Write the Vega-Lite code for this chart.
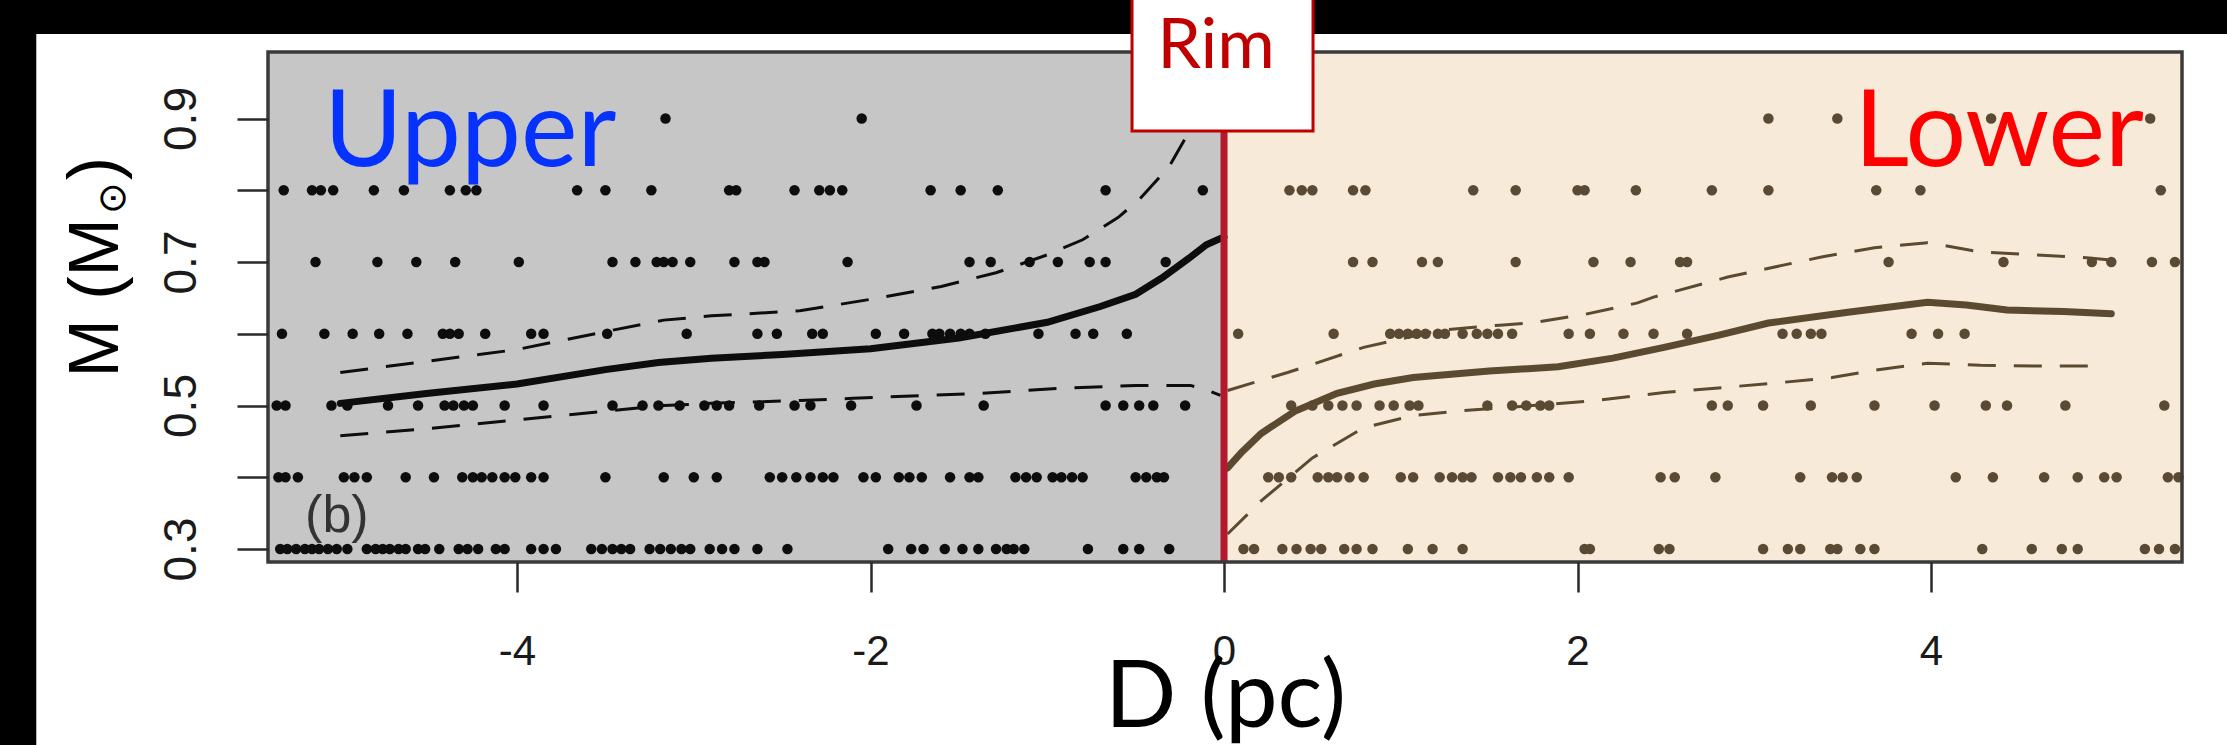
{
  "$schema": "https://vega.github.io/schema/vega-lite/v6.json",
  "width": 1914,
  "height": 510,
  "autosize": {"type": "none"},
  "padding": {"left": 268, "top": 52, "right": 45, "bottom": 183},
  "background": "black",
  "config": {"view": {"stroke": null}},
  "datasets": {
    "one": [{}],
    "upperPts": [
      {"D": -3.16, "M": 0.9}, {"D": -2.05, "M": 0.9},
      {"D": -5.32, "M": 0.8}, {"D": -5.16, "M": 0.8}, {"D": -5.11, "M": 0.8}, {"D": -5.04, "M": 0.8}, {"D": -4.81, "M": 0.8}, {"D": -4.64, "M": 0.8}, {"D": -4.38, "M": 0.8}, {"D": -4.29, "M": 0.8}, {"D": -4.23, "M": 0.8}, {"D": -3.66, "M": 0.8}, {"D": -3.50, "M": 0.8}, {"D": -3.24, "M": 0.8}, {"D": -2.80, "M": 0.8}, {"D": -2.76, "M": 0.8}, {"D": -2.43, "M": 0.8}, {"D": -2.29, "M": 0.8}, {"D": -2.23, "M": 0.8}, {"D": -2.16, "M": 0.8}, {"D": -1.66, "M": 0.8}, {"D": -1.49, "M": 0.8}, {"D": -1.28, "M": 0.8}, {"D": -0.67, "M": 0.8}, {"D": -0.12, "M": 0.8},
      {"D": -5.14, "M": 0.7}, {"D": -4.79, "M": 0.7}, {"D": -4.57, "M": 0.7}, {"D": -4.35, "M": 0.7}, {"D": -3.99, "M": 0.7}, {"D": -3.46, "M": 0.7}, {"D": -3.33, "M": 0.7}, {"D": -3.21, "M": 0.7}, {"D": -3.17, "M": 0.7}, {"D": -3.12, "M": 0.7}, {"D": -3.02, "M": 0.7}, {"D": -2.77, "M": 0.7}, {"D": -2.64, "M": 0.7}, {"D": -2.60, "M": 0.7}, {"D": -2.13, "M": 0.7}, {"D": -1.44, "M": 0.7}, {"D": -1.32, "M": 0.7}, {"D": -1.10, "M": 0.7}, {"D": -0.94, "M": 0.7}, {"D": -0.76, "M": 0.7}, {"D": -0.67, "M": 0.7}, {"D": -0.33, "M": 0.7},
      {"D": -5.33, "M": 0.6}, {"D": -5.09, "M": 0.6}, {"D": -4.93, "M": 0.6}, {"D": -4.78, "M": 0.6}, {"D": -4.62, "M": 0.6}, {"D": -4.42, "M": 0.6}, {"D": -4.38, "M": 0.6}, {"D": -4.33, "M": 0.6}, {"D": -4.18, "M": 0.6}, {"D": -3.92, "M": 0.6}, {"D": -3.85, "M": 0.6}, {"D": -3.49, "M": 0.6}, {"D": -3.04, "M": 0.6}, {"D": -2.64, "M": 0.6}, {"D": -2.53, "M": 0.6}, {"D": -2.33, "M": 0.6}, {"D": -2.27, "M": 0.6}, {"D": -1.97, "M": 0.6}, {"D": -1.81, "M": 0.6}, {"D": -1.65, "M": 0.6}, {"D": -1.61, "M": 0.6}, {"D": -1.55, "M": 0.6}, {"D": -1.49, "M": 0.6}, {"D": -1.44, "M": 0.6}, {"D": -1.35, "M": 0.6}, {"D": -1.05, "M": 0.6}, {"D": -0.84, "M": 0.6}, {"D": -0.74, "M": 0.6}, {"D": -0.55, "M": 0.6},
      {"D": -5.36, "M": 0.5}, {"D": -5.31, "M": 0.5}, {"D": -5.05, "M": 0.5}, {"D": -4.96, "M": 0.5}, {"D": -4.73, "M": 0.5}, {"D": -4.56, "M": 0.5}, {"D": -4.41, "M": 0.5}, {"D": -4.36, "M": 0.5}, {"D": -4.30, "M": 0.5}, {"D": -4.25, "M": 0.5}, {"D": -4.07, "M": 0.5}, {"D": -3.85, "M": 0.5}, {"D": -3.46, "M": 0.5}, {"D": -3.29, "M": 0.5}, {"D": -3.20, "M": 0.5}, {"D": -3.08, "M": 0.5}, {"D": -2.94, "M": 0.5}, {"D": -2.87, "M": 0.5}, {"D": -2.80, "M": 0.5}, {"D": -2.63, "M": 0.5}, {"D": -2.43, "M": 0.5}, {"D": -2.34, "M": 0.5}, {"D": -2.11, "M": 0.5}, {"D": -1.74, "M": 0.5}, {"D": -1.36, "M": 0.5}, {"D": -0.67, "M": 0.5}, {"D": -0.57, "M": 0.5}, {"D": -0.48, "M": 0.5}, {"D": -0.40, "M": 0.5}, {"D": -0.22, "M": 0.5},
      {"D": -5.35, "M": 0.4}, {"D": -5.31, "M": 0.4}, {"D": -5.24, "M": 0.4}, {"D": -4.98, "M": 0.4}, {"D": -4.92, "M": 0.4}, {"D": -4.85, "M": 0.4}, {"D": -4.63, "M": 0.4}, {"D": -4.47, "M": 0.4}, {"D": -4.31, "M": 0.4}, {"D": -4.25, "M": 0.4}, {"D": -4.20, "M": 0.4}, {"D": -4.14, "M": 0.4}, {"D": -4.07, "M": 0.4}, {"D": -4.01, "M": 0.4}, {"D": -3.92, "M": 0.4}, {"D": -3.85, "M": 0.4}, {"D": -3.50, "M": 0.4}, {"D": -3.17, "M": 0.4}, {"D": -3.00, "M": 0.4}, {"D": -2.87, "M": 0.4}, {"D": -2.57, "M": 0.4}, {"D": -2.50, "M": 0.4}, {"D": -2.42, "M": 0.4}, {"D": -2.34, "M": 0.4}, {"D": -2.27, "M": 0.4}, {"D": -2.21, "M": 0.4}, {"D": -2.04, "M": 0.4}, {"D": -1.97, "M": 0.4}, {"D": -1.84, "M": 0.4}, {"D": -1.78, "M": 0.4}, {"D": -1.71, "M": 0.4}, {"D": -1.55, "M": 0.4}, {"D": -1.44, "M": 0.4}, {"D": -1.39, "M": 0.4}, {"D": -1.18, "M": 0.4}, {"D": -1.12, "M": 0.4}, {"D": -1.06, "M": 0.4}, {"D": -0.97, "M": 0.4}, {"D": -0.92, "M": 0.4}, {"D": -0.86, "M": 0.4}, {"D": -0.80, "M": 0.4}, {"D": -0.50, "M": 0.4}, {"D": -0.44, "M": 0.4}, {"D": -0.38, "M": 0.4}, {"D": -0.34, "M": 0.4},
      {"D": -5.34, "M": 0.3}, {"D": -5.30, "M": 0.3}, {"D": -5.25, "M": 0.3}, {"D": -5.20, "M": 0.3}, {"D": -5.16, "M": 0.3}, {"D": -5.12, "M": 0.3}, {"D": -5.07, "M": 0.3}, {"D": -5.02, "M": 0.3}, {"D": -4.96, "M": 0.3}, {"D": -4.85, "M": 0.3}, {"D": -4.80, "M": 0.3}, {"D": -4.76, "M": 0.3}, {"D": -4.72, "M": 0.3}, {"D": -4.67, "M": 0.3}, {"D": -4.63, "M": 0.3}, {"D": -4.56, "M": 0.3}, {"D": -4.52, "M": 0.3}, {"D": -4.44, "M": 0.3}, {"D": -4.33, "M": 0.3}, {"D": -4.28, "M": 0.3}, {"D": -4.22, "M": 0.3}, {"D": -4.12, "M": 0.3}, {"D": -4.07, "M": 0.3}, {"D": -3.92, "M": 0.3}, {"D": -3.85, "M": 0.3}, {"D": -3.78, "M": 0.3}, {"D": -3.58, "M": 0.3}, {"D": -3.52, "M": 0.3}, {"D": -3.46, "M": 0.3}, {"D": -3.41, "M": 0.3}, {"D": -3.36, "M": 0.3}, {"D": -3.25, "M": 0.3}, {"D": -3.19, "M": 0.3}, {"D": -3.13, "M": 0.3}, {"D": -3.07, "M": 0.3}, {"D": -3.02, "M": 0.3}, {"D": -2.91, "M": 0.3}, {"D": -2.84, "M": 0.3}, {"D": -2.77, "M": 0.3}, {"D": -2.64, "M": 0.3}, {"D": -2.47, "M": 0.3}, {"D": -1.90, "M": 0.3}, {"D": -1.77, "M": 0.3}, {"D": -1.70, "M": 0.3}, {"D": -1.58, "M": 0.3}, {"D": -1.48, "M": 0.3}, {"D": -1.39, "M": 0.3}, {"D": -1.29, "M": 0.3}, {"D": -1.23, "M": 0.3}, {"D": -1.19, "M": 0.3}, {"D": -1.13, "M": 0.3}, {"D": -0.77, "M": 0.3}, {"D": -0.57, "M": 0.3}, {"D": -0.48, "M": 0.3}, {"D": -0.31, "M": 0.3}
    ],
    "lowerPts": [
      {"D": 3.08, "M": 0.9}, {"D": 3.47, "M": 0.9}, {"D": 4.11, "M": 0.9}, {"D": 4.34, "M": 0.9}, {"D": 5.24, "M": 0.9},
      {"D": 0.37, "M": 0.8}, {"D": 0.44, "M": 0.8}, {"D": 0.50, "M": 0.8}, {"D": 0.73, "M": 0.8}, {"D": 0.80, "M": 0.8}, {"D": 1.41, "M": 0.8}, {"D": 1.65, "M": 0.8}, {"D": 2.00, "M": 0.8}, {"D": 2.04, "M": 0.8}, {"D": 2.33, "M": 0.8}, {"D": 2.76, "M": 0.8}, {"D": 3.08, "M": 0.8}, {"D": 3.69, "M": 0.8}, {"D": 3.94, "M": 0.8}, {"D": 5.30, "M": 0.8},
      {"D": 0.73, "M": 0.7}, {"D": 0.84, "M": 0.7}, {"D": 1.12, "M": 0.7}, {"D": 1.21, "M": 0.7}, {"D": 1.65, "M": 0.7}, {"D": 2.09, "M": 0.7}, {"D": 2.30, "M": 0.7}, {"D": 2.58, "M": 0.7}, {"D": 2.62, "M": 0.7}, {"D": 3.76, "M": 0.7}, {"D": 4.41, "M": 0.7}, {"D": 4.91, "M": 0.7}, {"D": 5.02, "M": 0.7}, {"D": 5.25, "M": 0.7}, {"D": 5.38, "M": 0.7},
      {"D": 0.08, "M": 0.6}, {"D": 0.62, "M": 0.6}, {"D": 0.94, "M": 0.6}, {"D": 0.99, "M": 0.6}, {"D": 1.04, "M": 0.6}, {"D": 1.09, "M": 0.6}, {"D": 1.14, "M": 0.6}, {"D": 1.21, "M": 0.6}, {"D": 1.25, "M": 0.6}, {"D": 1.35, "M": 0.6}, {"D": 1.43, "M": 0.6}, {"D": 1.49, "M": 0.6}, {"D": 1.55, "M": 0.6}, {"D": 1.63, "M": 0.6}, {"D": 1.95, "M": 0.6}, {"D": 2.07, "M": 0.6}, {"D": 2.26, "M": 0.6}, {"D": 2.43, "M": 0.6}, {"D": 2.62, "M": 0.6}, {"D": 3.16, "M": 0.6}, {"D": 3.24, "M": 0.6}, {"D": 3.32, "M": 0.6}, {"D": 3.38, "M": 0.6}, {"D": 3.89, "M": 0.6}, {"D": 4.04, "M": 0.6}, {"D": 4.19, "M": 0.6},
      {"D": 0.38, "M": 0.5}, {"D": 0.50, "M": 0.5}, {"D": 0.59, "M": 0.5}, {"D": 0.67, "M": 0.5}, {"D": 0.75, "M": 0.5}, {"D": 0.88, "M": 0.5}, {"D": 0.96, "M": 0.5}, {"D": 1.05, "M": 0.5}, {"D": 1.10, "M": 0.5}, {"D": 1.49, "M": 0.5}, {"D": 1.63, "M": 0.5}, {"D": 1.71, "M": 0.5}, {"D": 1.79, "M": 0.5}, {"D": 1.84, "M": 0.5}, {"D": 2.76, "M": 0.5}, {"D": 2.85, "M": 0.5}, {"D": 3.05, "M": 0.5}, {"D": 3.32, "M": 0.5}, {"D": 3.68, "M": 0.5}, {"D": 4.02, "M": 0.5}, {"D": 4.31, "M": 0.5}, {"D": 4.43, "M": 0.5}, {"D": 4.76, "M": 0.5}, {"D": 5.32, "M": 0.5},
      {"D": 0.25, "M": 0.4}, {"D": 0.31, "M": 0.4}, {"D": 0.38, "M": 0.4}, {"D": 0.53, "M": 0.4}, {"D": 0.59, "M": 0.4}, {"D": 0.64, "M": 0.4}, {"D": 0.71, "M": 0.4}, {"D": 0.79, "M": 0.4}, {"D": 1.00, "M": 0.4}, {"D": 1.07, "M": 0.4}, {"D": 1.22, "M": 0.4}, {"D": 1.29, "M": 0.4}, {"D": 1.35, "M": 0.4}, {"D": 1.40, "M": 0.4}, {"D": 1.55, "M": 0.4}, {"D": 1.62, "M": 0.4}, {"D": 1.68, "M": 0.4}, {"D": 1.77, "M": 0.4}, {"D": 1.84, "M": 0.4}, {"D": 1.95, "M": 0.4}, {"D": 2.47, "M": 0.4}, {"D": 2.55, "M": 0.4}, {"D": 2.78, "M": 0.4}, {"D": 3.26, "M": 0.4}, {"D": 3.44, "M": 0.4}, {"D": 3.50, "M": 0.4}, {"D": 3.58, "M": 0.4}, {"D": 4.14, "M": 0.4}, {"D": 4.35, "M": 0.4}, {"D": 4.64, "M": 0.4}, {"D": 4.83, "M": 0.4}, {"D": 4.98, "M": 0.4}, {"D": 5.05, "M": 0.4}, {"D": 5.34, "M": 0.4}, {"D": 5.40, "M": 0.4},
      {"D": 0.11, "M": 0.3}, {"D": 0.17, "M": 0.3}, {"D": 0.33, "M": 0.3}, {"D": 0.41, "M": 0.3}, {"D": 0.49, "M": 0.3}, {"D": 0.55, "M": 0.3}, {"D": 0.68, "M": 0.3}, {"D": 0.75, "M": 0.3}, {"D": 0.84, "M": 0.3}, {"D": 1.04, "M": 0.3}, {"D": 1.18, "M": 0.3}, {"D": 1.35, "M": 0.3}, {"D": 2.04, "M": 0.3}, {"D": 2.07, "M": 0.3}, {"D": 2.46, "M": 0.3}, {"D": 2.52, "M": 0.3}, {"D": 3.05, "M": 0.3}, {"D": 3.19, "M": 0.3}, {"D": 3.26, "M": 0.3}, {"D": 3.43, "M": 0.3}, {"D": 3.47, "M": 0.3}, {"D": 3.60, "M": 0.3}, {"D": 3.68, "M": 0.3}, {"D": 4.29, "M": 0.3}, {"D": 4.57, "M": 0.3}, {"D": 4.74, "M": 0.3}, {"D": 4.83, "M": 0.3}, {"D": 5.21, "M": 0.3}, {"D": 5.29, "M": 0.3}, {"D": 5.38, "M": 0.3}
    ],
    "curves": [
      {"side": "Upper", "band": "fit", "D": -5.0, "M": 0.503}, {"side": "Upper", "band": "fit", "D": -4.5, "M": 0.517}, {"side": "Upper", "band": "fit", "D": -4.0, "M": 0.530}, {"side": "Upper", "band": "fit", "D": -3.5, "M": 0.550}, {"side": "Upper", "band": "fit", "D": -3.2, "M": 0.560}, {"side": "Upper", "band": "fit", "D": -2.9, "M": 0.566}, {"side": "Upper", "band": "fit", "D": -2.5, "M": 0.571}, {"side": "Upper", "band": "fit", "D": -2.0, "M": 0.579}, {"side": "Upper", "band": "fit", "D": -1.5, "M": 0.594}, {"side": "Upper", "band": "fit", "D": -1.0, "M": 0.616}, {"side": "Upper", "band": "fit", "D": -0.7, "M": 0.638}, {"side": "Upper", "band": "fit", "D": -0.5, "M": 0.655}, {"side": "Upper", "band": "fit", "D": -0.35, "M": 0.678}, {"side": "Upper", "band": "fit", "D": -0.2, "M": 0.705}, {"side": "Upper", "band": "fit", "D": -0.1, "M": 0.724}, {"side": "Upper", "band": "fit", "D": 0.0, "M": 0.735},
      {"side": "Upper", "band": "hi", "D": -5.0, "M": 0.546}, {"side": "Upper", "band": "hi", "D": -4.5, "M": 0.562}, {"side": "Upper", "band": "hi", "D": -4.0, "M": 0.578}, {"side": "Upper", "band": "hi", "D": -3.5, "M": 0.603}, {"side": "Upper", "band": "hi", "D": -3.17, "M": 0.619}, {"side": "Upper", "band": "hi", "D": -2.9, "M": 0.625}, {"side": "Upper", "band": "hi", "D": -2.4, "M": 0.632}, {"side": "Upper", "band": "hi", "D": -2.0, "M": 0.648}, {"side": "Upper", "band": "hi", "D": -1.6, "M": 0.666}, {"side": "Upper", "band": "hi", "D": -1.29, "M": 0.685}, {"side": "Upper", "band": "hi", "D": -1.0, "M": 0.710}, {"side": "Upper", "band": "hi", "D": -0.8, "M": 0.731}, {"side": "Upper", "band": "hi", "D": -0.6, "M": 0.762}, {"side": "Upper", "band": "hi", "D": -0.48, "M": 0.787}, {"side": "Upper", "band": "hi", "D": -0.31, "M": 0.833}, {"side": "Upper", "band": "hi", "D": -0.19, "M": 0.885}, {"side": "Upper", "band": "hi", "D": -0.1, "M": 0.93}, {"side": "Upper", "band": "hi", "D": -0.03, "M": 0.97},
      {"side": "Upper", "band": "lo", "D": -5.0, "M": 0.458}, {"side": "Upper", "band": "lo", "D": -4.5, "M": 0.468}, {"side": "Upper", "band": "lo", "D": -4.04, "M": 0.479}, {"side": "Upper", "band": "lo", "D": -3.5, "M": 0.492}, {"side": "Upper", "band": "lo", "D": -3.17, "M": 0.500}, {"side": "Upper", "band": "lo", "D": -2.9, "M": 0.503}, {"side": "Upper", "band": "lo", "D": -2.4, "M": 0.507}, {"side": "Upper", "band": "lo", "D": -2.1, "M": 0.510}, {"side": "Upper", "band": "lo", "D": -1.37, "M": 0.517}, {"side": "Upper", "band": "lo", "D": -0.94, "M": 0.524}, {"side": "Upper", "band": "lo", "D": -0.5, "M": 0.528}, {"side": "Upper", "band": "lo", "D": -0.19, "M": 0.528}, {"side": "Upper", "band": "lo", "D": -0.08, "M": 0.520}, {"side": "Upper", "band": "lo", "D": -0.02, "M": 0.514},
      {"side": "Lower", "band": "fit", "D": 0.02, "M": 0.413}, {"side": "Lower", "band": "fit", "D": 0.1, "M": 0.435}, {"side": "Lower", "band": "fit", "D": 0.21, "M": 0.461}, {"side": "Lower", "band": "fit", "D": 0.4, "M": 0.492}, {"side": "Lower", "band": "fit", "D": 0.64, "M": 0.517}, {"side": "Lower", "band": "fit", "D": 0.85, "M": 0.530}, {"side": "Lower", "band": "fit", "D": 1.07, "M": 0.539}, {"side": "Lower", "band": "fit", "D": 1.5, "M": 0.548}, {"side": "Lower", "band": "fit", "D": 1.89, "M": 0.554}, {"side": "Lower", "band": "fit", "D": 2.2, "M": 0.566}, {"side": "Lower", "band": "fit", "D": 2.49, "M": 0.581}, {"side": "Lower", "band": "fit", "D": 2.8, "M": 0.598}, {"side": "Lower", "band": "fit", "D": 3.08, "M": 0.615}, {"side": "Lower", "band": "fit", "D": 3.53, "M": 0.630}, {"side": "Lower", "band": "fit", "D": 3.98, "M": 0.644}, {"side": "Lower", "band": "fit", "D": 4.2, "M": 0.640}, {"side": "Lower", "band": "fit", "D": 4.43, "M": 0.633}, {"side": "Lower", "band": "fit", "D": 4.75, "M": 0.631}, {"side": "Lower", "band": "fit", "D": 5.02, "M": 0.628},
      {"side": "Lower", "band": "hi", "D": 0.02, "M": 0.521}, {"side": "Lower", "band": "hi", "D": 0.36, "M": 0.546}, {"side": "Lower", "band": "hi", "D": 0.79, "M": 0.581}, {"side": "Lower", "band": "hi", "D": 1.22, "M": 0.605}, {"side": "Lower", "band": "hi", "D": 1.56, "M": 0.612}, {"side": "Lower", "band": "hi", "D": 1.74, "M": 0.615}, {"side": "Lower", "band": "hi", "D": 2.04, "M": 0.627}, {"side": "Lower", "band": "hi", "D": 2.34, "M": 0.643}, {"side": "Lower", "band": "hi", "D": 2.43, "M": 0.651}, {"side": "Lower", "band": "hi", "D": 2.85, "M": 0.679}, {"side": "Lower", "band": "hi", "D": 3.38, "M": 0.707}, {"side": "Lower", "band": "hi", "D": 3.68, "M": 0.720}, {"side": "Lower", "band": "hi", "D": 3.98, "M": 0.727}, {"side": "Lower", "band": "hi", "D": 4.28, "M": 0.714}, {"side": "Lower", "band": "hi", "D": 4.58, "M": 0.710}, {"side": "Lower", "band": "hi", "D": 4.88, "M": 0.706}, {"side": "Lower", "band": "hi", "D": 5.0, "M": 0.703},
      {"side": "Lower", "band": "lo", "D": 0.02, "M": 0.321}, {"side": "Lower", "band": "lo", "D": 0.21, "M": 0.367}, {"side": "Lower", "band": "lo", "D": 0.5, "M": 0.427}, {"side": "Lower", "band": "lo", "D": 0.79, "M": 0.469}, {"side": "Lower", "band": "lo", "D": 1.07, "M": 0.486}, {"side": "Lower", "band": "lo", "D": 1.36, "M": 0.493}, {"side": "Lower", "band": "lo", "D": 1.7, "M": 0.499}, {"side": "Lower", "band": "lo", "D": 2.1, "M": 0.507}, {"side": "Lower", "band": "lo", "D": 2.49, "M": 0.518}, {"side": "Lower", "band": "lo", "D": 3.15, "M": 0.532}, {"side": "Lower", "band": "lo", "D": 3.44, "M": 0.539}, {"side": "Lower", "band": "lo", "D": 3.68, "M": 0.549}, {"side": "Lower", "band": "lo", "D": 3.98, "M": 0.559}, {"side": "Lower", "band": "lo", "D": 4.28, "M": 0.556}, {"side": "Lower", "band": "lo", "D": 4.58, "M": 0.555}, {"side": "Lower", "band": "lo", "D": 4.96, "M": 0.555}
    ]
  },
  "layer": [
    {
      "data": {"name": "one"},
      "mark": {"type": "rect", "fill": "white"},
      "encoding": {
        "x": {"datum": -6.72, "type": "quantitative"},
        "x2": {"datum": 6.5},
        "y": {"datum": 1.0178, "type": "quantitative"},
        "y2": {"datum": -0.3}
      }
    },
    {
      "data": {"name": "one"},
      "mark": {"type": "rect", "fill": "#c6c6c6", "clip": true},
      "encoding": {
        "x": {"datum": -6, "type": "quantitative"},
        "x2": {"datum": 0},
        "y": {"datum": 0.2, "type": "quantitative"},
        "y2": {"datum": 1.1}
      }
    },
    {
      "data": {"name": "one"},
      "mark": {"type": "rect", "fill": "#f8ead9", "clip": true},
      "encoding": {
        "x": {"datum": 0, "type": "quantitative"},
        "x2": {"datum": 6},
        "y": {"datum": 0.2, "type": "quantitative"},
        "y2": {"datum": 1.1}
      }
    },
    {
      "data": {"name": "upperPts"},
      "mark": {"type": "circle", "size": 110, "opacity": 1, "color": "#0d0d0d"},
      "encoding": {
        "x": {
          "field": "D", "type": "quantitative",
          "scale": {"domain": [-5.409, 5.42], "nice": false, "zero": false},
          "axis": {
            "values": [-4, -2, 0, 2, 4],
            "labelExpr": "'' + datum.value",
            "grid": false, "domain": false, "zindex": 1,
            "tickSize": 30, "tickWidth": 2.5, "tickColor": "#2a2a2a",
            "labelFont": "Liberation Sans", "labelFontSize": 42, "labelColor": "#1a1a1a",
            "labelBaseline": "alphabetic", "labelPadding": 72, "labelFlush": false, "labelOverlap": false,
            "title": "D (pc)", "titleFont": "Lato", "titleFontSize": 94, "titleFontWeight": "normal", "titleColor": "black",
            "titleBaseline": "alphabetic", "titleY": 164
          }
        },
        "y": {
          "field": "M", "type": "quantitative",
          "scale": {"domain": [0.2819, 0.9927], "nice": false, "zero": false},
          "axis": {
            "values": [0.3, 0.4, 0.5, 0.6, 0.7, 0.8, 0.9],
            "labelExpr": "round(datum.value * 10) % 2 == 1 ? format(datum.value, '.1f') : ''",
            "grid": false, "domain": false, "zindex": 1,
            "tickSize": 31, "tickWidth": 2.5, "tickColor": "#2a2a2a",
            "labelFont": "Liberation Sans", "labelFontSize": 46, "labelColor": "#1a1a1a",
            "labelAngle": -90, "labelAlign": "center", "labelBaseline": "alphabetic", "labelPadding": 42, "labelOverlap": false,
            "title": "M (M", "titleFont": "Liberation Sans", "titleFontSize": 70, "titleFontWeight": "normal", "titleColor": "black",
            "titleAngle": -90, "titleAlign": "left", "titleBaseline": "alphabetic", "titleX": -151, "titleY": 325
          }
        }
      }
    },
    {
      "data": {"name": "lowerPts"},
      "mark": {"type": "circle", "size": 110, "opacity": 1, "color": "#5b4a33"},
      "encoding": {
        "x": {"field": "D", "type": "quantitative"},
        "y": {"field": "M", "type": "quantitative"}
      }
    },
    {
      "data": {"name": "curves"},
      "transform": [{"filter": "datum.band != 'fit'"}],
      "mark": {"type": "line", "strokeWidth": 3, "strokeDash": [28, 18]},
      "encoding": {
        "x": {"field": "D", "type": "quantitative"},
        "y": {"field": "M", "type": "quantitative"},
        "detail": {"field": "band"},
        "color": {"field": "side", "type": "nominal", "scale": {"domain": ["Upper", "Lower"], "range": ["#0d0d0d", "#5c4a30"]}, "legend": null}
      }
    },
    {
      "data": {"name": "curves"},
      "transform": [{"filter": "datum.band == 'fit'"}],
      "mark": {"type": "line", "strokeWidth": 7, "strokeCap": "round"},
      "encoding": {
        "x": {"field": "D", "type": "quantitative"},
        "y": {"field": "M", "type": "quantitative"},
        "color": {"field": "side", "type": "nominal", "legend": null}
      }
    },
    {
      "data": {"name": "one"},
      "mark": {"type": "rule", "color": "#b3182f", "strokeWidth": 7},
      "encoding": {"x": {"datum": 0, "type": "quantitative"}}
    },
    {
      "data": {"name": "one"},
      "mark": {"type": "rect", "fill": "transparent", "stroke": "#3a3a3a", "strokeWidth": 3.5},
      "encoding": {
        "x": {"datum": -5.409, "type": "quantitative"},
        "x2": {"datum": 5.42},
        "y": {"datum": 0.2819, "type": "quantitative"},
        "y2": {"datum": 0.9927}
      }
    },
    {
      "data": {"name": "one"},
      "mark": {"type": "rect", "fill": "white", "stroke": "#c00000", "strokeWidth": 3},
      "encoding": {
        "x": {"datum": -0.5205, "type": "quantitative"},
        "x2": {"datum": 0.5035},
        "y": {"datum": 0.8826, "type": "quantitative"},
        "y2": {"datum": 1.1}
      }
    },
    {
      "data": {"name": "one"},
      "mark": {"type": "text", "text": "⊙", "font": "DejaVu Sans", "fontSize": 38, "color": "black", "angle": -90, "align": "center", "baseline": "middle"},
      "encoding": {"x": {"datum": -6.28, "type": "quantitative"}, "y": {"datum": 0.7892, "type": "quantitative"}}
    },
    {
      "data": {"name": "one"},
      "mark": {"type": "text", "text": ")", "font": "Liberation Sans", "fontSize": 70, "color": "black", "angle": -90, "align": "center", "baseline": "alphabetic"},
      "encoding": {"x": {"datum": -6.263, "type": "quantitative"}, "y": {"datum": 0.8303, "type": "quantitative"}}
    },
    {
      "data": {"name": "one"},
      "mark": {"type": "text", "text": "Rim", "font": "Lato", "fontSize": 70, "color": "#c00000", "align": "center", "baseline": "alphabetic"},
      "encoding": {"x": {"datum": -0.045, "type": "quantitative"}, "y": {"datum": 0.9704, "type": "quantitative"}}
    },
    {
      "data": {"name": "one"},
      "mark": {"type": "text", "text": "Upper", "font": "Lato", "fontSize": 107, "color": "#0532ff", "align": "left", "baseline": "alphabetic"},
      "encoding": {"x": {"datum": -5.092, "type": "quantitative"}, "y": {"datum": 0.8338, "type": "quantitative"}}
    },
    {
      "data": {"name": "one"},
      "mark": {"type": "text", "text": "Lower", "font": "Lato", "fontSize": 107, "color": "#ff0000", "align": "right", "baseline": "alphabetic"},
      "encoding": {"x": {"datum": 5.205, "type": "quantitative"}, "y": {"datum": 0.8338, "type": "quantitative"}}
    },
    {
      "data": {"name": "one"},
      "mark": {"type": "text", "text": "(b)", "font": "Liberation Sans", "fontSize": 52, "color": "#333333", "align": "left", "baseline": "alphabetic"},
      "encoding": {"x": {"datum": -5.199, "type": "quantitative"}, "y": {"datum": 0.3237, "type": "quantitative"}}
    }
  ]
}
